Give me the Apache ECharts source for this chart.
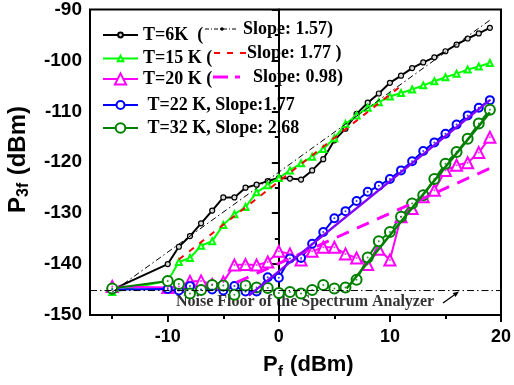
<!DOCTYPE html>
<html>
<head>
<meta charset="utf-8">
<script src="https://cdn.jsdelivr.net/npm/echarts@6/dist/echarts.min.js"></script>
<style>html,body{margin:0;padding:0;background:#fff}#c{width:514px;height:385px}</style>
</head>
<body>
<div id="c"></div>
<script>
// ---- data ----
const xValues = [-15,-10,-9,-8,-7,-6,-5,-4,-3,-2,-1,0,1,2,3,4,5,6,7,8,9,10,11,12,13,14,15,16,17,18,19];
const t6K  = [-145.0,-140.0,-136.6,-134.5,-132.0,-129.5,-126.9,-126.9,-125.0,-124.4,-123.7,-123.1,-123.2,-123.4,-121.6,-119.4,-115.7,-113.4,-110.5,-108.3,-106.5,-104.4,-103.0,-101.5,-100.4,-99.4,-98.2,-96.9,-95.7,-94.7,-93.6];
const t15K = [-145.5,-143.3,-139.6,-138.8,-136.4,-135.5,-132.3,-130.2,-128.8,-125.9,-124.5,-123.1,-121.6,-120.2,-118.9,-117.4,-115.3,-112.5,-110.8,-109.3,-108.2,-107.1,-106.4,-105.7,-104.9,-104.1,-103.3,-102.6,-101.8,-101.2,-100.5];
const t20K = [-144.4,-144.6,-144.4,-143.4,-143.3,-144.0,-143.5,-140.2,-140.1,-140.2,-139.6,-137.5,-138.0,-139.2,-137.5,-136.7,-136.7,-138.0,-138.8,-140.1,-137.1,-139.2,-130.7,-129.1,-126.8,-125.5,-121.6,-120.6,-120.1,-118.1,-115.1];
const t22K = [-145.0,-144.9,-145.2,-144.3,-145.0,-145.0,-145.2,-144.3,-145.4,-145.4,-142.6,-142.7,-138.9,-138.8,-136.0,-133.7,-131.0,-129.6,-127.6,-125.8,-124.6,-123.3,-121.6,-119.8,-117.8,-116.1,-114.4,-112.6,-110.8,-109.3,-107.8];
const t32K = [-144.8,-143.3,-143.9,-145.8,-145.1,-144.1,-144.2,-146.0,-144.2,-144.6,-144.7,-145.7,-145.5,-145.8,-145.1,-144.1,-144.8,-144.6,-143.1,-138.7,-135.5,-133.7,-130.7,-128.1,-126.5,-123.3,-120.3,-118.0,-115.4,-112.4,-109.7];

// linear fits (end points)
const fit6Kx = [-15, 19],   fit6Ky = [-145.5, -92.1];
const fit15Kx = [-9, 11],   fit15Ky = [-139.1, -105.0];
const fit20Kx = [-3.8, 19], fit20Ky = [-143.6, -121.2];
const fit22Kx = [-2.7, 19], fit22Ky = [-146.2, -107.8];
const fit32Kx = [6.1, 19],  fit32Ky = [-144.8, -110.2];
const noiseX = [-17, 20],   noiseY = [-145.2, -145.2];

const seriesNames = ['T=6K', 'T=15 K', 'T=20 K', 'T=22 K', 'T=32 K'];
const legendLabels = ['T=6K  (', 'T=15 K (', 'T=20 K (', ' T=22 K, Slope:1.77', ' T=32 K, Slope: 2.68'];
const slopeLabels = ['Slope: 1.57)', 'Slope: 1.77 )', 'Slope: 0.98)'];
const xMajorTicks = [-10, 0, 10, 20];
const xMinorTicks = [-15, -5, 5, 15];
const noiseText = 'Noise Floor of the Spectrum Analyzer';

// ---- build ----
const pairs = (xs, ys) => xs.map((x, i) => [x, ys[i]]);
const SERIF = '"Liberation Serif", "Times New Roman", serif';
const SANS = '"Liberation Sans", Arial, sans-serif';

function dataSeries(name, ys, color, symbol, size, lw) {
  return {
    name, type: 'line', data: pairs(xValues, ys), symbol, symbolSize: size,
    showAllSymbol: true,
    lineStyle: { color, width: lw },
    itemStyle: { color, borderColor: color, borderWidth: 1.3 },
    emphasis: { disabled: true }, z: 3
  };
}
function dotSeries(ys, color) {
  return { type: 'scatter', data: pairs(xValues, ys), symbol: 'circle', symbolSize: 2,
    itemStyle: { color }, silent: true, z: 4 };
}
function fitSeries(xs, ys, color, width, type) {
  return { type: 'line', data: pairs(xs, ys), symbol: 'none', silent: true,
    lineStyle: { color, width, type }, z: 5 };
}

// one legend per row so each row's marker keeps its own size
const legendCenters = [29, 53, 77, 101, 125];
const legendIconHeights = [6, 7, 14, 10, 12];
const legends = seriesNames.map((n, i) => ({
  data: [n], orient: 'vertical', left: 102, top: legendCenters[i] - legendIconHeights[i] / 2,
  padding: 0, itemWidth: 35, itemHeight: legendIconHeights[i],
  formatter: () => legendLabels[i],
  textStyle: { fontFamily: SERIF, fontWeight: 'bold', fontSize: 18, color: '#000' },
  selectedMode: false
}));

const chart = echarts.init(document.getElementById('c'), null, { renderer: 'canvas' });
chart.setOption({
  animation: false,
  backgroundColor: '#fff',
  grid: { left: 90, right: 11, top: 9, bottom: 70, show: true, borderColor: '#000', borderWidth: 2 },
  xAxis: [{
    type: 'value', min: -17, max: 20,
    axisLine: { lineStyle: { color: '#000', width: 2 } },
    axisTick: { customValues: xMajorTicks, length: 7, lineStyle: { color: '#000', width: 2 } },
    axisLabel: { customValues: xMajorTicks, color: '#000', fontFamily: SANS, fontWeight: 'bold', fontSize: 18, margin: 13 },
    splitLine: { show: false }
  }, {
    type: 'value', min: -17, max: 20, position: 'bottom',
    axisLine: { show: false },
    axisTick: { customValues: xMinorTicks, length: 4, lineStyle: { color: '#000', width: 2 } },
    axisLabel: { show: false },
    splitLine: { show: false }
  }],
  yAxis: {
    type: 'value', min: -150, max: -90, interval: 10,
    axisLine: { show: true, lineStyle: { color: '#000', width: 2 } },
    axisTick: { show: true, length: 7, lineStyle: { color: '#000', width: 2 } },
    minorTick: { show: true, splitNumber: 2, length: 4, lineStyle: { color: '#000', width: 2 } },
    axisLabel: { color: '#000', fontFamily: SANS, fontWeight: 'bold', fontSize: 19, margin: 8 },
    splitLine: { show: false }
  },
  legend: legends,
  series: [
    Object.assign(dataSeries(seriesNames[0], t6K, '#000000', 'circle', 5, 2), { itemStyle: { color: '#d8d8d8', borderColor: '#000', borderWidth: 1.2 } }),
    dataSeries(seriesNames[1], t15K, '#00ff00', 'emptyTriangle', 6, 2),
    dataSeries(seriesNames[2], t20K, '#ff00ff', 'emptyTriangle', 11, 2),
    dataSeries(seriesNames[3], t22K, '#0000ff', 'emptyCircle', 8, 2),
    dataSeries(seriesNames[4], t32K, '#008000', 'emptyCircle', 10, 2),
    dotSeries(t20K, '#ff00ff'),
    dotSeries(t22K, '#0000ff'),
    dotSeries(t32K, '#008000'),
    fitSeries(noiseX, noiseY, '#000', 1, [7, 3, 1.5, 3]),
    fitSeries(fit6Kx, fit6Ky, '#000', 1, [6, 3, 1.5, 3]),
    fitSeries(fit15Kx, fit15Ky, '#ff0000', 2, [6, 7]),
    fitSeries(fit20Kx, fit20Ky, '#ff00ff', 3, [13, 9]),
    fitSeries(fit22Kx, fit22Ky, '#8000ff', 2.5, 'solid'),
    fitSeries(fit32Kx, fit32Ky, '#008000', 2.5, 'solid')
  ],
  graphic: [
    // legend fit-line samples and slope texts
    { type: 'line', shape: { x1: 205, y1: 29, x2: 237, y2: 29 }, style: { stroke: '#000', lineWidth: 1, lineDash: [4, 2, 1, 2] } },
    { type: 'circle', shape: { cx: 222, cy: 29, r: 1.8 }, style: { fill: '#000' } },
    { type: 'text', x: 243, y: 29, style: { text: slopeLabels[0], font: 'bold 18px ' + SERIF, fill: '#000', verticalAlign: 'middle' } },
    { type: 'line', shape: { x1: 214, y1: 53, x2: 247, y2: 53 }, style: { stroke: '#ff0000', lineWidth: 2, lineDash: [6, 7] } },
    { type: 'text', x: 247, y: 53, style: { text: slopeLabels[1], font: 'bold 18px ' + SERIF, fill: '#000', verticalAlign: 'middle' } },
    { type: 'line', shape: { x1: 213, y1: 77, x2: 228, y2: 77 }, style: { stroke: '#ff00ff', lineWidth: 3 } },
    { type: 'line', shape: { x1: 235, y1: 77, x2: 240, y2: 77 }, style: { stroke: '#ff00ff', lineWidth: 3 } },
    { type: 'text', x: 253, y: 77, style: { text: slopeLabels[2], font: 'bold 18px ' + SERIF, fill: '#000', verticalAlign: 'middle' } },
    // noise floor annotation
    { type: 'text', x: 176, y: 302, style: { text: noiseText, font: 'bold 16px ' + SERIF, fill: '#333', verticalAlign: 'middle' } },
    { type: 'line', shape: { x1: 443, y1: 303, x2: 454.2, y2: 295 }, style: { stroke: '#000', lineWidth: 1.3 } },
    { type: 'polygon', shape: { points: [[459, 291.5], [455.6, 297.0], [452.7, 293.0]] }, style: { fill: '#000' } },
    // x axis title
    { type: 'text', x: 263, y: 365, style: { text: 'P', font: 'bold 22px ' + SANS, fill: '#000', verticalAlign: 'middle' } },
    { type: 'text', x: 278, y: 372, style: { text: 'f', font: 'bold 15px ' + SANS, fill: '#000', verticalAlign: 'middle' } },
    { type: 'text', x: 284, y: 365, style: { text: ' (dBm)', font: 'bold 22px ' + SANS, fill: '#000', verticalAlign: 'middle' } },
    // y axis title (rotated)
    { type: 'group', x: 18, y: 213, rotation: Math.PI / 2, children: [
      { type: 'text', x: 0, y: 0, style: { text: 'P', font: 'bold 24px ' + SANS, fill: '#000', verticalAlign: 'middle' } },
      { type: 'text', x: 16, y: 6, style: { text: '3f', font: 'bold 16px ' + SANS, fill: '#000', verticalAlign: 'middle' } },
      { type: 'text', x: 31, y: 0, style: { text: ' (dBm)', font: 'bold 24px ' + SANS, fill: '#000', verticalAlign: 'middle' } }
    ] }
  ]
});
</script>
</body>
</html>
